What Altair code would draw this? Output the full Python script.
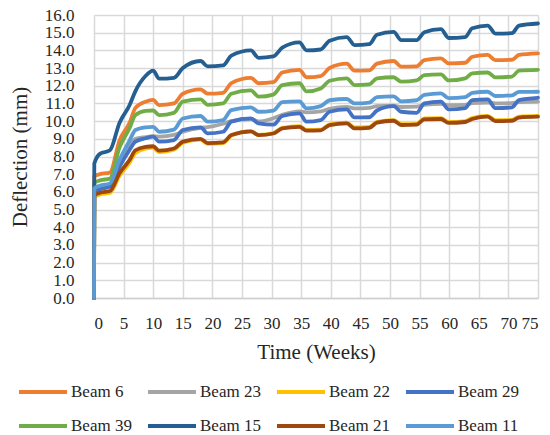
import altair as alt
import pandas as pd

# Time axis (weeks) at which the deflection readings are plotted
weeks = [0, 0.05, 1, 2.7, 4.3, 6, 7, 8.7, 10, 11, 13.5, 15, 18, 19.2, 21.8, 23.2,
         26.5, 27.8, 30.3, 31.8, 34.7, 35.9, 38.3, 39.8, 42.7, 44, 46.5, 47.8,
         50.6, 51.9, 54.5, 55.8, 58.6, 59.9, 62.7, 63.9, 66.5, 67.8, 70.6, 71.8, 75]

# Mid-span deflection of each beam (mm)
beam_6 = [0, 6.9, 7.0, 7.1, 8.9, 9.9, 10.75, 11.1, 11.2, 10.9, 11.0, 11.55, 11.8, 11.55,
          11.6, 12.15, 12.45, 12.14, 12.2, 12.75, 12.9, 12.48, 12.55, 13.0, 13.25, 12.85,
          12.87, 13.25, 13.4, 13.08, 13.1, 13.45, 13.55, 13.27, 13.3, 13.64, 13.74, 13.45,
          13.47, 13.74, 13.83]
beam_23 = [0, 6.1, 6.25, 6.4, 7.6, 8.6, 9.0, 9.1, 9.15, 9.12, 9.22, 9.4, 9.62, 9.66,
           9.85, 10.0, 10.12, 9.98, 10.16, 10.35, 10.55, 10.5, 10.55, 10.7, 10.8, 10.72,
           10.75, 10.85, 10.88, 10.8, 10.82, 10.92, 10.98, 10.9, 10.92, 11.02, 11.05, 11.0,
           11.02, 11.08, 11.1]
beam_22 = [0, 5.7, 5.85, 5.95, 6.9, 7.65, 8.2, 8.45, 8.5, 8.25, 8.38, 8.78, 8.95, 8.72,
           8.76, 9.18, 9.42, 9.22, 9.32, 9.62, 9.72, 9.5, 9.52, 9.82, 9.92, 9.64, 9.67,
           9.96, 10.06, 9.83, 9.85, 10.15, 10.17, 9.95, 10.0, 10.17, 10.3, 10.05, 10.07,
           10.25, 10.3]
beam_29 = [0, 6.0, 6.15, 6.3, 7.42, 8.37, 8.84, 9.03, 9.12, 8.84, 8.93, 9.5, 9.65, 9.31,
           9.4, 9.97, 10.16, 9.87, 9.8, 10.29, 10.44, 9.97, 10.06, 10.53, 10.66, 10.21,
           10.22, 10.6, 10.85, 10.53, 10.47, 11.0, 11.1, 10.66, 10.74, 11.19, 11.23, 10.74,
           10.78, 11.19, 11.32]
beam_39 = [0, 6.5, 6.65, 6.75, 8.5, 9.6, 10.35, 10.58, 10.6, 10.34, 10.47, 11.1, 11.23,
           10.92, 11.0, 11.55, 11.74, 11.38, 11.5, 12.03, 12.14, 11.68, 11.85, 12.28, 12.42,
           12.04, 12.08, 12.42, 12.48, 12.23, 12.3, 12.6, 12.64, 12.3, 12.42, 12.7, 12.75,
           12.47, 12.52, 12.85, 12.9]
beam_15 = [0, 7.6, 8.15, 8.35, 9.9, 10.9, 11.7, 12.55, 12.85, 12.4, 12.45, 13.0, 13.4,
           13.1, 13.15, 13.7, 14.0, 13.58, 13.66, 14.15, 14.45, 14.0, 14.05, 14.55, 14.75,
           14.3, 14.35, 14.88, 15.05, 14.58, 14.58, 15.02, 15.2, 14.7, 14.75, 15.25, 15.4,
           14.95, 14.97, 15.4, 15.52]
beam_21 = [0, 5.8, 5.95, 6.05, 7.05, 7.8, 8.35, 8.55, 8.58, 8.33, 8.45, 8.84, 9.0, 8.76,
           8.8, 9.21, 9.42, 9.21, 9.3, 9.59, 9.68, 9.46, 9.48, 9.78, 9.87, 9.59, 9.62, 9.91,
           10.02, 9.78, 9.8, 10.1, 10.12, 9.9, 9.95, 10.12, 10.25, 10.0, 10.02, 10.2, 10.25]
beam_11 = [0, 6.2, 6.35, 6.48, 7.8, 8.9, 9.5, 9.65, 9.68, 9.4, 9.52, 10.15, 10.29, 9.97,
           10.06, 10.62, 10.78, 10.53, 10.6, 11.08, 11.12, 10.72, 10.85, 11.18, 11.25, 11.0,
           11.05, 11.36, 11.4, 11.12, 11.18, 11.48, 11.57, 11.3, 11.36, 11.6, 11.66, 11.42,
           11.46, 11.65, 11.66]

beam_names = ["Beam 6", "Beam 23", "Beam 22", "Beam 29",
              "Beam 39", "Beam 15", "Beam 21", "Beam 11"]
beam_colors = ["#ED7D31", "#A5A5A5", "#FFC000", "#4472C4",
               "#70AD47", "#255E91", "#9E480E", "#5B9BD5"]
beam_values = [beam_6, beam_23, beam_22, beam_29, beam_39, beam_15, beam_21, beam_11]

rows = []
for name, vals in zip(beam_names, beam_values):
    for i, (w, v) in enumerate(zip(weeks, vals)):
        rows.append({"beam": name, "week": w, "deflection": v, "idx": i})
df = pd.DataFrame(rows)

FONT = "Liberation Serif"
TEXT = "#262626"

chart = (
    alt.Chart(df)
    .mark_line(strokeWidth=3.8, interpolate="monotone", strokeJoin="round", strokeCap="round")
    .encode(
        x=alt.X(
            "week:Q",
            scale=alt.Scale(domain=[0, 75], nice=False, zero=True),
            axis=alt.Axis(
                values=list(range(0, 80, 5)),
                title="Time (Weeks)",
                titleX=222, titleY=54, titleAlign="center", titleBaseline="middle",
                labelPadding=17, ticks=False,
                labelFont=FONT, labelFontSize=17, labelColor=TEXT,
                domain=True, domainColor="#D0D0D0", domainWidth=1.5,
            ),
        ),
        y=alt.Y(
            "deflection:Q",
            scale=alt.Scale(domain=[0, 16], nice=False),
            axis=alt.Axis(
                values=list(range(0, 17)),
                format=".1f",
                title="Deflection (mm)",
                titleX=-74, titleY=141.5, titleAngle=270,
                titleAlign="center", titleBaseline="middle",
                labelPadding=20, ticks=False, domain=False,
                labelFont=FONT, labelFontSize=17, labelColor=TEXT,
            ),
        ),
        color=alt.Color(
            "beam:N",
            sort=beam_names,
            scale=alt.Scale(domain=beam_names, range=beam_colors),
            legend=alt.Legend(
                title=None,
                orient="none",
                legendX=-77,
                legendY=351,
                columns=4,
                direction="horizontal",
                symbolType="stroke",
                symbolSize=2304,
                symbolStrokeWidth=3.8,
                labelFont=FONT,
                labelFontSize=17,
                labelColor=TEXT,
                labelOffset=2,
                columnPadding=8,
                rowPadding=-22,
                gridAlign="all",
                padding=0,
            ),
        ),
        order="idx:Q",
    )
    .properties(
        width=444,
        height=283,
        padding={"left": 94, "top": 15, "right": 12, "bottom": 137},
        autosize=alt.AutoSizeParams(type="none"),
    )
    .configure(font=FONT)
    .configure_view(stroke=None)
    .configure_axis(
        titleFont=FONT,
        titleFontSize=21,
        titleFontWeight="normal",
        titleColor=TEXT,
        gridColor="#D9D9D9",
        gridWidth=1.5,
    )
)

chart.save("out.html", embed_options={"renderer": "svg", "actions": False})
